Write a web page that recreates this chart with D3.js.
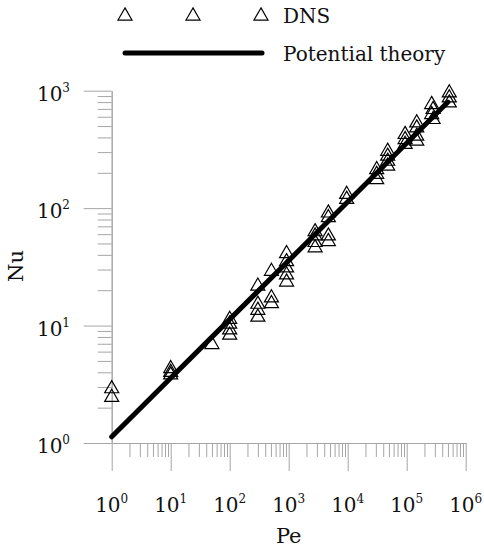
<!DOCTYPE html>
<html>
<head>
<meta charset="utf-8">
<script src="https://cdn.jsdelivr.net/npm/d3@7"></script>
<style>
  body { margin: 0; background: #fff; }
</style>
</head>
<body>
<div id="chart"></div>
<script>
// DNS points (Pe, Nu)
const dnsPe = [
    1, 1,
    10, 10, 10,
    50,
    100, 100, 100, 100,
    300, 300, 300, 300,
    510, 510, 510,
    920, 920, 920, 920, 920,
    2800, 2800, 2800, 2800,
    4700, 4700, 4700, 4700,
    9600, 9600,
    31000, 31000, 31000,
    47600, 47600, 47600, 47600,
    94000, 94000, 94000,
    148000, 148000, 148000, 148000,
    265000, 280000, 265000, 280000,
    527000, 527000, 527000
];
const dnsNu = [
    2.9, 2.45,
    4.3, 4.0, 3.8,
    6.9,
    11.3, 10.3, 9.2, 8.3,
    21.7, 15.2, 13.5, 11.8,
    29, 17.2, 15.4,
    41, 35, 31, 27, 23.5,
    63, 58, 51, 46,
    91, 83, 58, 52,
    131, 119,
    213, 194, 175,
    305, 277, 251, 228,
    424, 384, 349,
    532, 482, 410, 372,
    763, 692, 627, 569,
    958, 869, 787
];

// Potential theory line end points
const theoryPe = [1, 500000];
const theoryNu = [1.13, 800];

const xMajor = [1, 1e1, 1e2, 1e3, 1e4, 1e5, 1e6];
const yMajor = [1, 1e1, 1e2, 1e3];
const exponents = ["0", "1", "2", "3", "4", "5", "6"];

const width = 484, height = 550;
const serif = "DejaVu Serif";

const svg = d3.select("#chart")
    .append("svg")
    .attr("width", width)
    .attr("height", height)
    .style("font-family", serif);

const x = d3.scaleLog().domain([1, 1e6]).range([111.7, 465.7]);
const y = d3.scaleLog().domain([1, 1e3]).range([443, 90.7]);

// minor ticks 2..9 in each decade
function minors(majors) {
    const out = [];
    majors.slice(0, -1).forEach(m => {
        for (let k = 2; k <= 9; k++) out.push(m * k);
    });
    return out;
}

const axisColor = "#a6a6a6";

// x axis
const gx = svg.append("g").attr("transform", `translate(0,${y(1)})`);
gx.append("g")
    .call(d3.axisBottom(x).tickValues(minors(xMajor)).tickSize(14).tickSizeOuter(0).tickFormat(""));
gx.append("g")
    .call(d3.axisBottom(x).tickValues(xMajor).tickSize(28).tickSizeOuter(0).tickFormat(""));

// y axis
const gy = svg.append("g").attr("transform", `translate(${x(1)},0)`);
gy.append("g")
    .call(d3.axisLeft(y).tickValues(minors(yMajor)).tickSize(14).tickSizeOuter(0).tickFormat(""));
gy.append("g")
    .call(d3.axisLeft(y).tickValues(yMajor).tickSize(28).tickSizeOuter(0).tickFormat(""));

svg.selectAll(".domain, .tick line").attr("stroke", axisColor).attr("stroke-width", 1);

// x tick labels
const xl = svg.append("g").selectAll("text")
    .data(xMajor)
    .join("text")
    .attr("x", d => x(d))
    .attr("y", 512)
    .attr("text-anchor", "middle")
    .attr("fill", "#111")
    .style("font-size", "20px");
xl.append("tspan").text("10");
xl.append("tspan")
    .attr("dy", -9)
    .style("font-size", "12px")
    .text((d, i) => exponents[i]);

// y tick labels
const yl = svg.append("g").selectAll("text")
    .data(yMajor)
    .join("text")
    .attr("x", 70)
    .attr("y", d => y(d) + 10)
    .attr("text-anchor", "end")
    .attr("fill", "#111")
    .style("font-size", "20px");
yl.append("tspan").text("10");
yl.append("tspan")
    .attr("dy", -9)
    .style("font-size", "12px")
    .text((d, i) => exponents[i]);

// axis titles
svg.append("text")
    .attr("x", x(1000))
    .attr("y", 543)
    .attr("text-anchor", "middle")
    .attr("fill", "#111")
    .style("font-size", "21px")
    .text("Pe");

svg.append("text")
    .attr("transform", "translate(23,266) rotate(-90)")
    .attr("text-anchor", "middle")
    .attr("fill", "#111")
    .style("font-size", "21px")
    .text("Nu");

// theory line
const line = d3.line()
    .x(d => x(d[0]))
    .y(d => y(d[1]));

svg.append("path")
    .datum(theoryPe.map((p, i) => [p, theoryNu[i]]))
    .attr("d", line)
    .attr("fill", "none")
    .attr("stroke", "#000")
    .attr("stroke-width", 5)
    .attr("stroke-linecap", "round");

// DNS triangles
const tri = d3.symbol().type(d3.symbolTriangle).size(85);

svg.append("g")
    .selectAll("path")
    .data(dnsPe.map((p, i) => [p, dnsNu[i]]))
    .join("path")
    .attr("d", tri)
    .attr("transform", d => `translate(${x(d[0])},${y(d[1])})`)
    .attr("fill", "none")
    .attr("stroke", "#000")
    .attr("stroke-width", 1.2);

// legend
const legend = svg.append("g");
legend.selectAll("path")
    .data([125, 193, 261])
    .join("path")
    .attr("d", tri)
    .attr("transform", d => `translate(${d},16)`)
    .attr("fill", "none")
    .attr("stroke", "#000")
    .attr("stroke-width", 1.2);
legend.append("text")
    .attr("x", 283)
    .attr("y", 23)
    .attr("fill", "#111")
    .style("font-size", "20px")
    .text("DNS");
legend.append("line")
    .attr("x1", 125).attr("x2", 262)
    .attr("y1", 53).attr("y2", 53)
    .attr("stroke", "#000")
    .attr("stroke-width", 5)
    .attr("stroke-linecap", "round");
legend.append("text")
    .attr("x", 283)
    .attr("y", 61)
    .attr("fill", "#111")
    .style("font-size", "20px")
    .text("Potential theory");
</script>
</body>
</html>
